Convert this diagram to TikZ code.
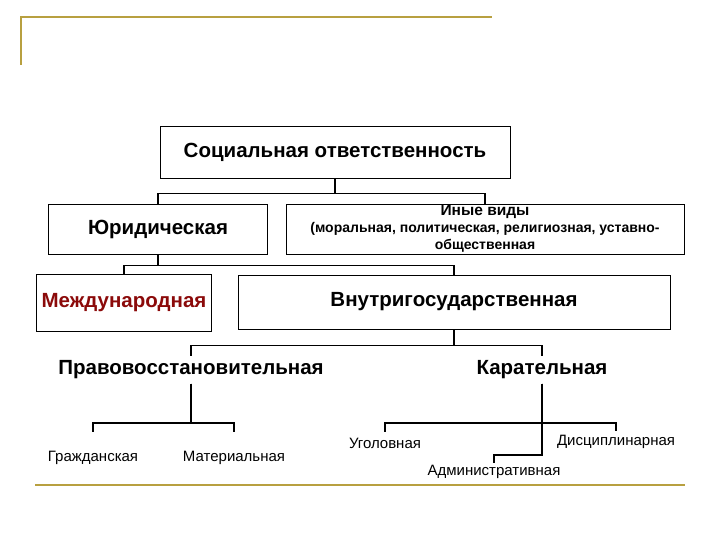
\documentclass[tikz,border=0pt]{standalone}
\usepackage{fontspec}
\setmainfont{Liberation Sans}
\usetikzlibrary{positioning}
\definecolor{rulegold}{HTML}{B8A040}
\definecolor{intlred}{HTML}{8B0A0A}

\begin{document}
\begin{tikzpicture}[x=1pt,y=-1pt,
  box/.style={draw,line width=0.9pt,align=center,inner sep=0pt,
              font=\bfseries\fontsize{20.5}{24}\selectfont},
  head/.style={align=center,inner sep=0pt,minimum height=27pt,
               font=\bfseries\fontsize{20.5}{24}\selectfont},
  leaf/.style={inner sep=0pt,minimum height=22pt,font=\fontsize{15}{17}\selectfont},
  link/.style={line width=1.8pt}
]
  \useasboundingbox (0,0) rectangle (720,540);
  \draw[rulegold,line width=2pt] (21,65) -- (21,17) -- (492,17);
  \draw[rulegold,line width=2pt] (35,485) -- (685,485);

  \node[box,minimum width=350pt,minimum height=52pt] (soc) at (335,152)
    {Социальная ответственность};
  \node[box,minimum width=219pt,minimum height=50pt] (jur) at (158,229)
    {Юридическая};
  \node[box,minimum width=398pt,minimum height=50pt,
        font=\bfseries\fontsize{14}{17}\selectfont] (other) at (485,229)
    {{\fontsize{15.5}{17}\selectfont Иные виды}\\
     (моральная, политическая, религиозная, уставно-\\
     общественная\rule[-2pt]{0pt}{2pt}};
  \node[box,minimum width=175pt,minimum height=57pt,text=intlred] (intl) at (124,302.5)
    {Международная};
  \node[box,minimum width=432pt,minimum height=54pt] (dom) at (454,302)
    {Внутригосударственная};

  \node[head] (restore) at (191,370) {Правовосстановительная};
  \node[head] (punit) at (542,370) {Карательная};

  \node[leaf] (civil) at (93,458) {Гражданская};
  \node[leaf] (material) at (234,458) {Материальная};
  \node[leaf] (crim) at (385,443) {Уголовная};
  \node[leaf] (discip) at (616,442) {Дисциплинарная};
  \node[leaf,minimum height=18pt] (admin) at (494,472) {Административная};

  \draw[link] (soc.south) -- ++(0,15) -| (jur.north);
  \draw[link] (soc.south) -- ++(0,15) -| (other.north);
  \draw[link] (jur.south) -- ++(0,11) -| (intl.north);
  \draw[link] (jur.south) -- ++(0,11) -| (dom.north);
  \draw[link] (dom.south) -- ++(0,16) -| (restore.north);
  \draw[link] (dom.south) -- ++(0,16) -| (punit.north);
  \draw[link,shorten >=15pt] (restore.south) -- ++(0,39) -| (civil.north);
  \draw[link,shorten >=15pt] (restore.south) -- ++(0,39) -| (material.north);
  \draw[link] (punit.south) -- ++(0,39) -| (crim.north);
  \draw[link] (punit.south) -- ++(0,39) -| (discip.north);
  \draw[link] (punit.south) -- ++(0,71) -| (admin.north);
\end{tikzpicture}
\end{document}
